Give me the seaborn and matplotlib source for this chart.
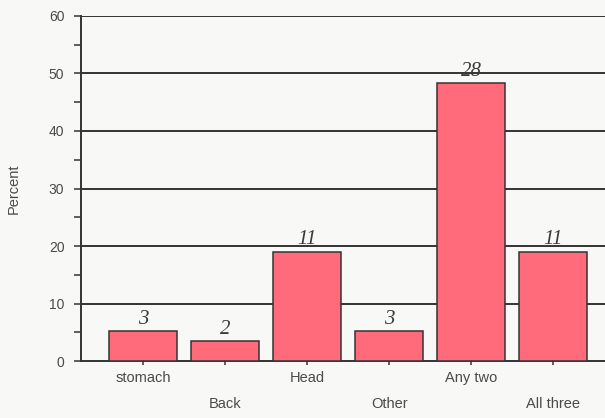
import numpy as np
import pandas as pd
import matplotlib
matplotlib.use("Agg")
import matplotlib.pyplot as plt
import seaborn as sns

# Pain location categories and number of respondents in each
categories = ["stomach", "Back", "Head", "Other", "Any two", "All three"]
counts = [3, 2, 11, 3, 28, 11]
y_ticks = [0, 10, 20, 30, 40, 50, 60]

counts_arr = np.array(counts, dtype=float)
percent = counts_arr / counts_arr.sum() * 100
df = pd.DataFrame({"category": categories, "percent": percent, "count": counts})

sns.set_theme(style="white")
plt.rcParams["font.family"] = ["Liberation Sans", "DejaVu Sans"]

bg = "#f8f8f6"
dark = "#333333"
label_col = "#4a4a4a"

fig = plt.figure(figsize=(6.05, 4.18), dpi=100, facecolor=bg)
ax = fig.add_axes([0.134, 0.136, 0.95, 0.826], facecolor=bg)

sns.barplot(data=df, x="category", y="percent", order=categories,
            color="#ff6b7a", saturation=1, width=0.83,
            edgecolor=dark, linewidth=1.1, ax=ax, zorder=3)

# horizontal reference lines
for v in y_ticks[1:]:
    ax.axhline(v, color=dark, lw=1.4, zorder=1)

ax.set_ylim(0, 60)
ax.set_xlim(-0.756, 5.63 + (0.95 - 0.866) * 605 / 82)
ax.set_yticks(y_ticks)
ax.set_yticks(np.arange(5, 60, 10), minor=True)
ax.tick_params(axis="y", which="both", direction="out", length=5, width=1.1,
               color=dark, left=True, labelsize=10, labelcolor=label_col, pad=7)
ax.tick_params(axis="x", direction="out", length=3, width=1.1, color=dark,
               bottom=True, labelsize=10.5, labelcolor=label_col)

ax.set_xticks(range(len(categories)))
ax.set_xticklabels(categories)
for i, t in enumerate(ax.xaxis.get_major_ticks()):
    t.set_pad(4 if i % 2 == 0 else 23)

for side in ["top", "right"]:
    ax.spines[side].set_visible(False)
for side in ["left", "bottom"]:
    ax.spines[side].set_color(dark)
    ax.spines[side].set_linewidth(1.4)

ax.set_xlabel("")
ax.set_ylabel("Percent", fontsize=10.5, color=label_col, labelpad=20)

# count labels above each bar
for i, (p, c) in enumerate(zip(percent, counts)):
    ax.annotate(str(c), (i, p), xytext=(0, 2), textcoords="offset points",
                ha="center", va="bottom", fontsize=15, style="italic",
                family=["Liberation Serif", "DejaVu Serif"], color="#3a3a3a",
                zorder=4)

fig.savefig("out.png", dpi=100, facecolor=bg)
